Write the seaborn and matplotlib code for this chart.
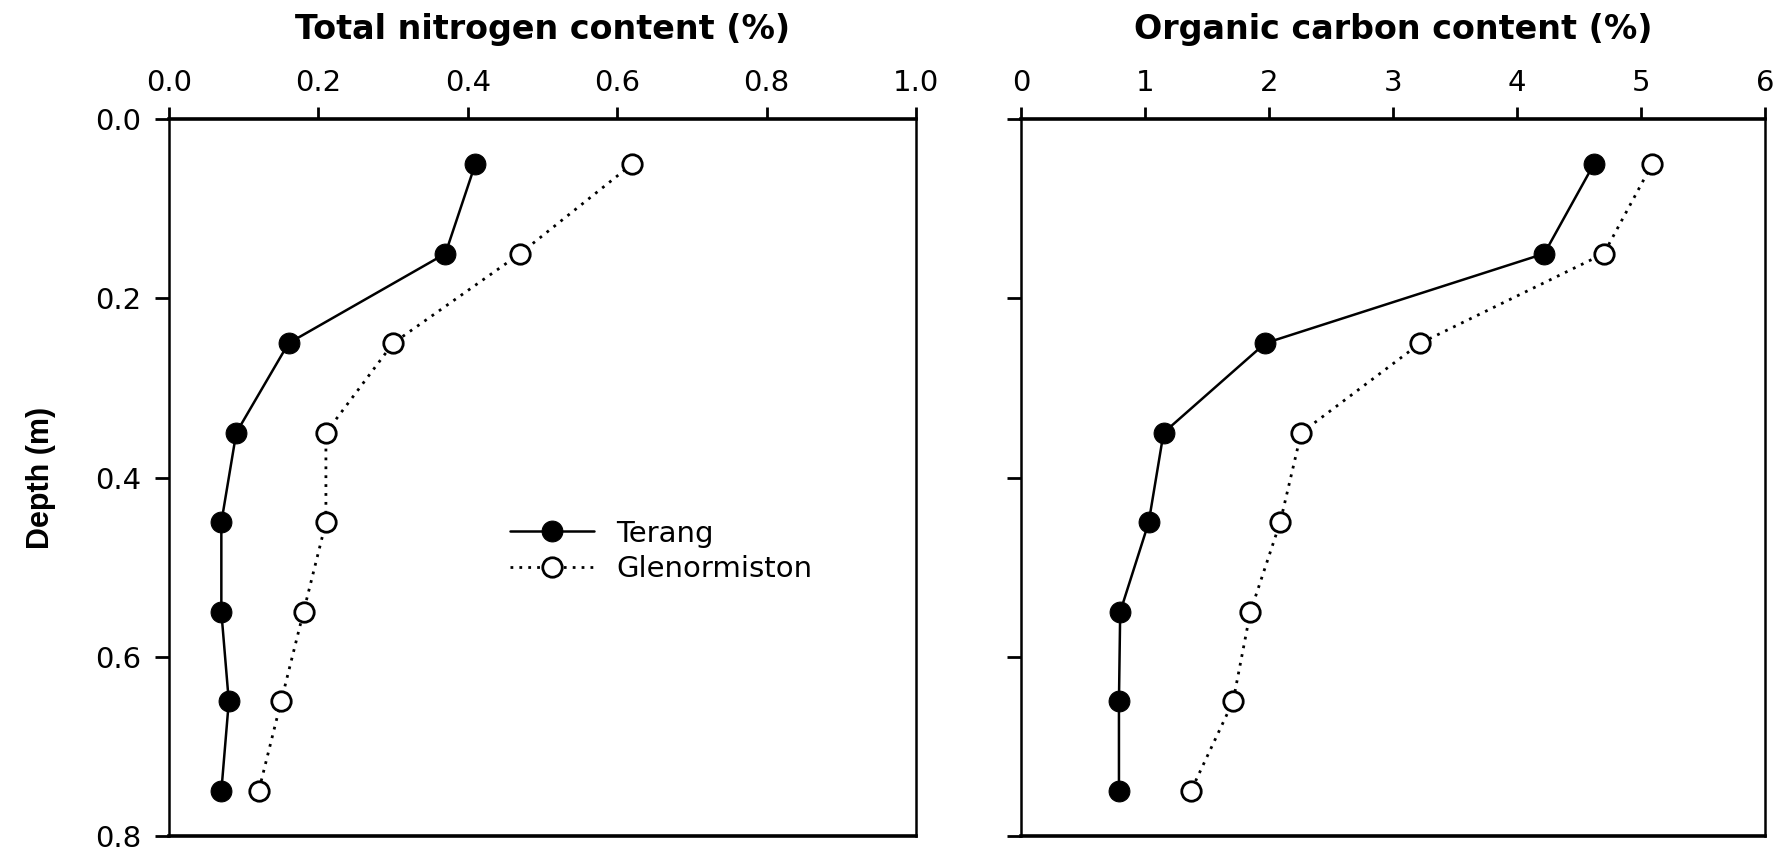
import matplotlib
matplotlib.use("Agg")
import matplotlib.pyplot as plt
import seaborn as sns
import pandas as pd

# Data
depth = [0.05, 0.15, 0.25, 0.35, 0.45, 0.55, 0.65, 0.75]
n_terang = [0.41, 0.37, 0.16, 0.09, 0.07, 0.07, 0.08, 0.07]
n_glen = [0.62, 0.47, 0.30, 0.21, 0.21, 0.18, 0.15, 0.12]
c_terang = [4.62, 4.22, 1.97, 1.15, 1.03, 0.80, 0.79, 0.79]
c_glen = [5.09, 4.70, 3.22, 2.26, 2.09, 1.85, 1.71, 1.37]
sites = ["Terang", "Glenormiston"]
titles = ["Total nitrogen content (%)", "Organic carbon content (%)"]
n_ticks = [0.0, 0.2, 0.4, 0.6, 0.8, 1.0]
c_ticks = [0, 1, 2, 3, 4, 5, 6]
y_ticks = [0.0, 0.2, 0.4, 0.6, 0.8]

sns.set_style("white")
plt.rcParams["font.family"] = ["DejaVu Sans"]
plt.rcParams["text.color"] = "black"
plt.rcParams["axes.labelcolor"] = "black"
plt.rcParams["xtick.color"] = "black"
plt.rcParams["ytick.color"] = "black"
plt.rcParams["axes.titlecolor"] = "black"

fig = plt.figure(figsize=(17.89, 8.52), dpi=100)
ax1 = fig.add_axes([0.0945, 0.019, 0.4175, 0.841])
ax2 = fig.add_axes([0.5707, 0.019, 0.4159, 0.841])

def draw(ax, terang, glen, xlim, xticks, xfmt, title, ylabels):
    df_t = pd.DataFrame({"x": terang, "depth": depth})
    df_g = pd.DataFrame({"x": glen, "depth": depth})
    sns.lineplot(data=df_t, x="x", y="depth", sort=False, estimator=None,
                 color="black", linewidth=1.8, marker="o", markersize=15,
                 markerfacecolor="black", markeredgecolor="black",
                 label=sites[0], ax=ax)
    sns.lineplot(data=df_g, x="x", y="depth", sort=False, estimator=None,
                 color="black", linewidth=2.0, linestyle=(0, (1, 2.2)), marker="o",
                 markersize=14, markerfacecolor="white", markeredgecolor="black",
                 markeredgewidth=2.0, label=sites[1], ax=ax)
    ax.set_xlim(xlim)
    ax.set_ylim(0.8, 0.0)
    ax.xaxis.tick_top()
    ax.set_xticks(xticks)
    ax.set_xticklabels([xfmt.format(v) for v in xticks])
    ax.set_yticks(y_ticks)
    if ylabels:
        ax.set_yticklabels([f"{v:.1f}" for v in y_ticks])
    else:
        ax.set_yticklabels([])
    ax.tick_params(axis="x", which="both", top=True, bottom=False, direction="out",
                   length=9, width=2.0, labelsize=21, pad=7, colors="black")
    ax.tick_params(axis="y", which="both", left=True, direction="out",
                   length=10, width=2.0, labelsize=21, pad=10, colors="black")
    ax.set_xlabel("")
    ax.set_ylabel("")
    for s in ["top", "bottom"]:
        ax.spines[s].set_linewidth(2.6)
    for s in ["left", "right"]:
        ax.spines[s].set_linewidth(1.8)
    for s in ax.spines.values():
        s.set_color("black")
        s.set_visible(True)
    ax.set_title(title, fontsize=24, fontweight="bold", pad=58, color="black")

draw(ax1, n_terang, n_glen, (0.0, 1.0), n_ticks, "{:.1f}", titles[0], True)
draw(ax2, c_terang, c_glen, (0, 6), c_ticks, "{:d}", titles[1], False)

ax1.set_ylabel("Depth (m)", fontsize=22, fontweight="bold", color="black",
               family=["Liberation Sans", "DejaVu Sans"])
ax1.yaxis.set_label_coords(-0.152, 0.5)
ax2.get_legend().remove()
leg = ax1.legend(loc="center left", bbox_to_anchor=(0.456, 0.397), frameon=False,
                 fontsize=21, handlelength=2.9, handletextpad=0.75,
                 labelspacing=0.25, borderpad=0.0, borderaxespad=0.0)
for t in leg.get_texts():
    t.set_color("black")

fig.savefig("out.png", dpi=100, facecolor="white")
